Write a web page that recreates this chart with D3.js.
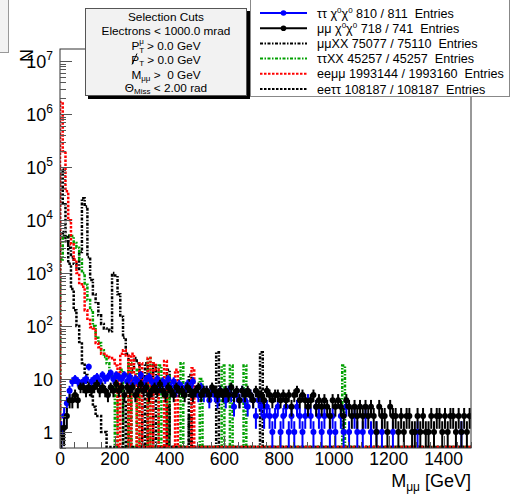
<!DOCTYPE html>
<html>
<head>
<meta charset="utf-8">
<script src="https://cdn.jsdelivr.net/npm/d3@7"></script>
<style>
body { margin: 0; background: #fff; }
svg { display: block; }
text { font-family: "Liberation Sans", Arial, sans-serif; white-space: pre; }
</style>
</head>
<body>
<svg id="chart"></svg>
<script>
// bins are 10 GeV wide, first bin starts at 0
var binW = 10;

var ttChiChi = [
  1, 2, 3.5, 6, 9, 10, 9, 8, 9, 10,
  17, 9, 10, 11, 9, 12, 10, 11, 13, 10,
  12, 11, 10, 12, 9, 11, 8, 10, 9, 12,
  8, 10, 11, 9, 8, 10, 7, 9, 8, 10,
  7, 9, 6, 8, 7, 6, 8, 7, 9, 6,
  5, 7, 5, 6, 4, 6, 5, 4, 6, 5,
  4, 6, 5, 3, 5, 4, 6, 4, 3, 5,
  4, 2, 4, 3, 2, 3, 2, 1, 2, 3,
  1, 2, 3, 1, 2, 1, 3, 2, 1, 2,
  4, 2, 1, 3, 2, 1, 2, 0, 1, 2,
  1, 0, 2, 1, 3, 1, 0, 2, 1, 0,
  1, 2, 0, 1, 0, 1, 0, 1, 0, 0,
  0, 1, 0, 0, 0, 0, 0, 0, 0, 0,
  1, 0, 0, 0, 0, 0, 0, 0, 0, 0,
  0, 0, 0, 0, 0, 0, 1, 0, 0, 0
];

var mmChiChi = [
  0.8, 1.2, 2, 4, 4, 5, 4, 7, 7, 6,
  7, 6, 7, 8, 6, 7, 6, 5, 7, 6,
  8, 6, 7, 5, 7, 6, 7, 5, 6, 8,
  6, 7, 5, 6, 7, 6, 8, 6, 5, 7,
  6, 5, 7, 6, 6, 5, 7, 6, 5, 6,
  7, 5, 6, 6, 5, 7, 6, 5, 6, 5,
  6, 5, 7, 5, 6, 4, 6, 5, 6, 5,
  4, 6, 5, 5, 4, 6, 5, 4, 5, 5,
  4, 5, 4, 5, 3, 5, 6, 4, 5, 4,
  3, 4, 5, 3, 4, 3, 4, 3, 2, 4,
  3, 4, 3, 2, 4, 3, 2, 3, 2, 3,
  2, 3, 2, 3, 2, 1, 3, 2, 2, 1,
  3, 2, 2, 1, 2, 1, 2, 2, 1, 1,
  2, 1, 2, 1, 1, 2, 1, 2, 2, 1,
  2, 1, 2, 2, 1, 2, 1, 2, 1, 2
];

var mmXX = [
  6000, 5000, 4000, 3000, 2000, 1500, 1200, 2500, 26000, 18000,
  2000, 740, 400, 270, 160, 110, 90, 85, 80, 1000,
  900, 400, 150, 60, 30, 0, 15, 25, 20, 12,
  0, 20, 0, 0, 18, 0, 0, 0, 0, 15,
  0, 0, 0, 0, 0, 0, 0, 12, 0, 0,
  0, 0, 0, 0, 0, 0, 0, 32, 0, 0,
  0, 0, 0, 0, 0, 0, 0, 0, 0, 0,
  0, 0, 0, 32
];

var ttXX = [
  1800, 5000, 4800, 5200, 5000, 3700, 3000, 1800, 1000, 600,
  310, 200, 100, 60, 48, 35, 26, 20, 13, 10,
  0, 12, 15, 0, 0, 20, 0, 0, 15, 0,
  0, 0, 25, 0, 0, 0, 18, 0, 0, 12,
  0, 0, 0, 0, 20, 0, 0, 0, 0, 0,
  0, 10, 0, 0, 0, 0, 0, 0, 0, 18,
  0, 0, 18, 0, 0, 0, 0, 18, 0, 0,
  0, 0, 0, 0, 0, 0, 0, 0, 0, 0,
  0, 0, 0, 0, 0, 0, 0, 0, 0, 0,
  0, 0, 0, 0, 0, 0, 0, 0, 0, 0,
  0, 0, 0, 18
];

var eemm = [
  1.7e6, 2.0e5, 3.5e4, 1.0e4, 3500, 1800, 1000, 650, 550, 200,
  130, 95, 90, 48, 40, 30, 30, 26, 25, 23,
  18, 0, 30, 35, 28, 0, 30, 12, 0, 20,
  0, 0, 25, 0, 20, 15, 0, 0, 22, 0,
  0, 0, 15, 0, 0, 0, 0, 0, 16
];

var eett = [
  90000, 20000, 5000, 1500, 500, 200, 100, 50, 20, 12,
  7, 5, 3, 2, 2, 1, 1, 0, 0, 0,
  0, 0, 0, 4, 0, 0, 0, 0, 0, 0,
  0, 0, 0, 0, 0, 0, 0, 0, 0, 3,
  0, 0, 0, 0, 0, 0, 0, 2
];

var legendNames = ["ττ χ", "μμ χ", "μμXX 75077 / 75110  Entries", "ττXX 45257 / 45257  Entries",
                   "eeμμ 1993144 / 1993160  Entries", "eeττ 108187 / 108187  Entries"];
var chiCounts = ["810 / 811  Entries", "718 / 741  Entries"];
var xTicks = [0, 200, 400, 600, 800, 1000, 1200, 1400];
var yExps = [0, 1, 2, 3, 4, 5, 6, 7];

var frame = {left: 60, right: 471, top: 49, bottom: 448};

var svg = d3.select("#chart").attr("width", 514).attr("height", 494);

var x = d3.scaleLinear().domain([0, 1500]).range([frame.left, frame.right]);
var y = d3.scaleLog().domain([0.5, 1.7e7]).range([frame.bottom, frame.top]);

// little gray pad on the left edge
svg.append("rect").attr("x", -10).attr("y", -10).attr("width", 18.5).attr("height", 62.5)
  .attr("fill", "#f2f2f2").attr("stroke", "#999");

svg.append("clipPath").attr("id", "clip").append("rect")
  .attr("x", frame.left).attr("y", frame.top)
  .attr("width", frame.right - frame.left).attr("height", frame.bottom - frame.top);

var plot = svg.append("g").attr("clip-path", "url(#clip)");

var base = frame.bottom - 1;
function yv(v) { return v > 0 ? y(v) : base; }

function histPath(vals) {
  var p = d3.path();
  p.moveTo(x(0), base);
  var nb = 1500 / binW;
  for (var i = 0; i < nb; i++) {
    var v = i < vals.length ? vals[i] : 0;
    p.lineTo(x(i * binW), yv(v));
    p.lineTo(x((i + 1) * binW), yv(v));
  }
  p.lineTo(x(1500), base);
  return p.toString();
}

var dashDot = "3,1.5,1.5,1.5";
var dots = "2.5,1.5";

var dotted = [
  {vals: mmXX, color: "#000", dash: dashDot},
  {vals: ttXX, color: "#00a000", dash: dashDot},
  {vals: eett, color: "#000", dash: dots},
  {vals: eemm, color: "#ff0000", dash: dots}
];

dotted.forEach(function(h) {
  plot.append("path")
    .attr("d", histPath(h.vals))
    .attr("fill", "none")
    .attr("stroke", h.color)
    .attr("stroke-width", 2.5)
    .attr("stroke-dasharray", h.dash);
});

function drawPoints(vals, color) {
  var g = plot.append("g");
  var pts = vals.map(function(v, i) { return {v: v, i: i}; }).filter(function(d) { return d.v > 0; });
  // error bars drawn shorter than plain sqrt(N), as in the original plot
  g.selectAll("line.ey").data(pts).enter().append("line")
    .attr("x1", function(d) { return x(d.i * binW + binW / 2); })
    .attr("x2", function(d) { return x(d.i * binW + binW / 2); })
    .attr("y1", function(d) { return y(d.v + 0.6 * Math.sqrt(d.v)); })
    .attr("y2", function(d) { var lo = d.v - 0.6 * Math.sqrt(d.v); return lo > 0.5 ? y(lo) : frame.bottom + 2; })
    .attr("stroke", color).attr("stroke-width", 2);
  g.selectAll("circle").data(pts).enter().append("circle")
    .attr("cx", function(d) { return x(d.i * binW + binW / 2); })
    .attr("cy", function(d) { return y(d.v); })
    .attr("r", 3)
    .attr("fill", color);
}

drawPoints(ttChiChi, "#0000ff");
drawPoints(mmChiChi, "#000");

// frame
svg.append("rect")
  .attr("x", frame.left).attr("y", frame.top)
  .attr("width", frame.right - frame.left).attr("height", frame.bottom - frame.top)
  .attr("fill", "none").attr("stroke", "#333").attr("stroke-width", 1);

// y ticks (log, inward)
var axisG = svg.append("g").attr("stroke", "#555").attr("stroke-width", 1);
var minor = [];
for (var e = -1; e <= 7; e++) {
  for (var m = 2; m <= 9; m++) {
    var v = m * Math.pow(10, e);
    if (v >= 0.5 && v <= 1.7e7) minor.push(v);
  }
}
axisG.selectAll("line.ymin").data(minor).enter().append("line")
  .attr("x1", frame.left).attr("x2", frame.left + 6)
  .attr("y1", function(d) { return Math.round(y(d)) + 0.5; })
  .attr("y2", function(d) { return Math.round(y(d)) + 0.5; });
axisG.selectAll("line.ymaj").data(yExps).enter().append("line")
  .attr("x1", frame.left).attr("x2", frame.left + 12)
  .attr("y1", function(d) { return Math.round(y(Math.pow(10, d))) + 0.5; })
  .attr("y2", function(d) { return Math.round(y(Math.pow(10, d))) + 0.5; });

// x ticks (inward, up)
var xMinor = d3.range(0, 1501, 50);
axisG.selectAll("line.xmin").data(xMinor).enter().append("line")
  .attr("x1", function(d) { return Math.round(x(d)) + 0.5; })
  .attr("x2", function(d) { return Math.round(x(d)) + 0.5; })
  .attr("y1", frame.bottom).attr("y2", function(d) { return d % 200 === 0 ? frame.bottom - 12 : frame.bottom - 6; });

// y labels
var yLab = svg.append("g");
yExps.forEach(function(e) {
  var t = yLab.append("text")
    .attr("x", 53)
    .attr("y", y(Math.pow(10, e)) + 6.5)
    .attr("text-anchor", "end")
    .attr("font-size", 18)
    .attr("fill", "#000");
  if (e === 0) t.text("1");
  else if (e === 1) t.text("10");
  else {
    t.append("tspan").text("10");
    t.append("tspan").attr("font-size", 12).attr("dy", -8).text(e);
  }
});

// x labels
svg.append("g").selectAll("text").data(xTicks).enter().append("text")
  .attr("x", function(d) { return x(d); })
  .attr("y", 464.5)
  .attr("text-anchor", "middle")
  .attr("font-size", 17.5)
  .text(function(d) { return d; });

// axis titles
var xt = svg.append("text").attr("x", frame.right).attr("y", 486.5)
  .attr("text-anchor", "end").attr("font-size", 18);
xt.append("tspan").text("M");
xt.append("tspan").attr("font-size", 12).attr("dy", 4).text("μμ");
xt.append("tspan").attr("dy", -4).text(" [GeV]");

svg.append("text")
  .attr("transform", "translate(33," + frame.top + ") rotate(-90)")
  .attr("text-anchor", "end").attr("font-size", 18).text("N");

// selection cuts box
var cuts = svg.append("g");
cuts.append("rect").attr("x", 88).attr("y", 11).attr("width", 162).attr("height", 88).attr("fill", "#000");
cuts.append("rect").attr("x", 85.5).attr("y", 8.5).attr("width", 161).attr("height", 87)
  .attr("fill", "#f2f2f2").attr("stroke", "#555");
var cx = 166;
function cutLine(yy) {
  return cuts.append("text").attr("x", cx).attr("y", yy).attr("text-anchor", "middle").attr("font-size", 11.8);
}
cutLine(20.5).text("Selection Cuts");
cutLine(35).text("Electrons < 1000.0 mrad");
var l3 = cutLine(50);
l3.append("tspan").text("P");
l3.append("tspan").attr("font-size", 8).attr("dy", 3).text("T");
l3.append("tspan").attr("font-size", 8).attr("dy", -9).attr("dx", -5).text("μ");
l3.append("tspan").attr("dy", 6).text(" > 0.0 GeV");
var l4 = cutLine(63.5);
l4.append("tspan").text("P");
l4.append("tspan").attr("font-size", 8).attr("dy", 2).text("T");
l4.append("tspan").attr("dy", -2).text(" > 0.0 GeV");
cuts.append("line").attr("x1", 132).attr("y1", 64.5).attr("x2", 137).attr("y2", 53.5).attr("stroke", "#000").attr("stroke-width", 1);
var l5 = cutLine(78.5);
l5.append("tspan").text("M");
l5.append("tspan").attr("font-size", 8).attr("dy", 2.5).text("μμ");
l5.append("tspan").attr("dy", -2.5).text(" >  0 GeV");
var l6 = cutLine(91.5);
l6.append("tspan").text("Θ");
l6.append("tspan").attr("font-size", 8).attr("dy", 2.5).text("Miss");
l6.append("tspan").attr("dy", -2.5).text(" < 2.00 rad");

// legend
var leg = svg.append("g");
leg.append("rect").attr("x", 250.5).attr("y", -1).attr("width", 259).attr("height", 97.5)
  .attr("fill", "#fff").attr("stroke", "#888");
var legStyles = [
  {color: "#0000ff", dash: null, marker: true},
  {color: "#000", dash: null, marker: true},
  {color: "#000", dash: dashDot},
  {color: "#00a000", dash: dashDot},
  {color: "#ff0000", dash: dots},
  {color: "#000", dash: dots}
];
legendNames.forEach(function(name, i) {
  var ly = 13 + i * 15.2;
  var s = legStyles[i];
  leg.append("line").attr("x1", 260).attr("x2", 307).attr("y1", ly).attr("y2", ly)
    .attr("stroke", s.color).attr("stroke-width", 2)
    .attr("stroke-dasharray", s.dash);
  if (s.marker) leg.append("circle").attr("cx", 283.5).attr("cy", ly).attr("r", 2.8).attr("fill", s.color);
  var t = leg.append("text").attr("x", 317).attr("y", ly + 4.5).attr("font-size", 12.6);
  if (i < 2) {
    t.append("tspan").text(name);
    t.append("tspan").attr("font-size", 8).attr("dy", -5).text("0");
    t.append("tspan").attr("dy", 5).text("χ");
    t.append("tspan").attr("font-size", 8).attr("dy", -5).text("0");
    t.append("tspan").attr("dy", 5).text(" " + chiCounts[i]);
  } else {
    t.text(name);
  }
});
</script>
</body>
</html>
